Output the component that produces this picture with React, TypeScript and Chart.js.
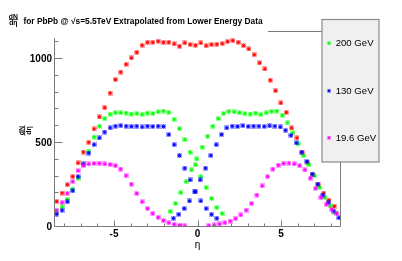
import React, { useEffect, useRef } from "react";
import { Chart, registerables } from "chart.js";

Chart.register(...registerables);

// ---- data ----
const etaRed = [-8.44,-8.12,-7.80,-7.48,-7.16,-6.84,-6.52,-6.20,-5.88,-5.56,-5.24,-4.92,-4.60,-4.28,-3.96,-3.64,-3.32,-3.00,-2.68,-2.36,-2.04,-1.72,-1.40,-1.08,-0.76,-0.44,-0.12,0.20,0.52,0.84,1.16,1.48,1.80,2.12,2.44,2.76,3.08,3.40,3.72,4.04,4.36,4.68,5.00,5.32,5.64,5.96,6.28,6.60,6.92,7.24,7.56,7.88,8.20];
const valRed = [152,202,252,300,381,446,504,583,655,710,797,877,922,968,1006,1039,1081,1099,1099,1105,1099,1099,1089,1075,1095,1085,1081,1095,1078,1085,1087,1091,1103,1109,1099,1079,1059,1025,976,940,873,811,738,682,589,530,444,381,311,252,202,160,123];

const etaGreenL = [-8.44,-8.12,-7.80,-7.48,-7.16,-6.84,-6.52,-6.20,-5.88,-5.56,-5.24,-4.92,-4.60,-4.28,-3.96,-3.64,-3.32,-3.00,-2.68,-2.36,-2.04,-1.72,-1.40,-1.08,-0.76,-0.44,-0.12,0.20,0.52,0.84,1.16,1.48];
const valGreenL = [88,120,165,225,290,370,450,535,600,645,672,680,680,678,672,675,670,678,675,685,690,682,640,585,520,445,370,300,235,170,115,80];
const etaGreenR = [-1.64,-1.32,-1.00,-0.68,-0.36,-0.04,0.28,0.60,0.92,1.24,1.56,1.88,2.20,2.52,2.84,3.16,3.48,3.80,4.12,4.44,4.76,5.08,5.40,5.72,6.04,6.36,6.68,7.00,7.32,7.64,7.96,8.28,8.60];
const valGreenR = [93,140,205,270,340,405,475,540,600,645,675,688,685,680,675,672,678,670,680,688,690,665,620,560,495,425,370,305,235,175,125,85,55];

const etaBlueL = [-8.44,-8.12,-7.80,-7.48,-7.16,-6.84,-6.52,-6.20,-5.88,-5.56,-5.24,-4.92,-4.60,-4.28,-3.96,-3.64,-3.32,-3.00,-2.68,-2.36,-2.04,-1.72,-1.40,-1.08,-0.76,-0.44,-0.12,0.20,0.52,0.84,1.16];
const valBlueL = [77,100,150,215,300,375,440,490,530,565,590,600,603,600,598,600,595,600,598,600,598,550,490,425,350,280,210,155,110,75,52];
const etaBlueR = [-1.44,-1.12,-0.80,-0.48,-0.16,0.16,0.48,0.80,1.12,1.44,1.76,2.08,2.40,2.72,3.04,3.36,3.68,4.00,4.32,4.64,4.96,5.28,5.60,5.92,6.24,6.56,6.88,7.20,7.52,7.84,8.16,8.48];
const valBlueR = [52,75,110,155,210,280,350,425,490,550,590,600,598,603,598,600,600,598,602,600,595,575,545,500,445,390,315,255,190,145,95,55];

const etaMagL = [-8.44,-8.12,-7.80,-7.48,-7.16,-6.84,-6.52,-6.20,-5.88,-5.56,-5.24,-4.92,-4.60,-4.28,-3.96,-3.64,-3.32,-3.00,-2.68,-2.36,-2.04,-1.72,-1.40,-1.08,-0.76];
const valMagL = [100,145,200,270,335,365,375,378,378,375,372,365,345,305,255,200,150,110,80,57,38,25,16,10,6];
const etaMagR = [0.68,1.00,1.32,1.64,1.96,2.28,2.60,2.92,3.24,3.56,3.88,4.20,4.52,4.84,5.16,5.48,5.80,6.12,6.44,6.76,7.08,7.40,7.72,8.04,8.36];
const valMagR = [8,12,18,25,35,50,72,100,140,190,245,300,345,368,378,380,375,365,340,290,230,175,135,105,80];

const xTickLabels = [-5, 0, 5];
const yTickLabels = [0, 500, 1000];
const legendLabels = ["200 GeV", "130 GeV", "19.6 GeV"];
const titleText = "for PbPb @ \u221As=5.5TeV Extrapolated from Lower Energy Data";

const RED = "#ff0000";
const GREEN = "#00ff00";
const BLUE = "#0000ff";
const MAGENTA = "#ff00ff";

function pts(xs: number[], ys: number[]) {
  return xs.map((x, i) => ({ x, y: ys[i] }));
}

function makeMarker(color: string): HTMLCanvasElement {
  const c = document.createElement("canvas");
  c.width = 5;
  c.height = 5;
  const g = c.getContext("2d")!;
  g.globalAlpha = 0.28;
  g.fillStyle = color;
  g.fillRect(0, 0, 5, 5);
  g.globalAlpha = 0.9;
  g.strokeStyle = color;
  g.lineWidth = 0.9;
  g.beginPath();
  g.moveTo(0.8, 0.8); g.lineTo(4.2, 4.2);
  g.moveTo(4.2, 0.8); g.lineTo(0.8, 4.2);
  g.moveTo(2.5, 0.5); g.lineTo(2.5, 4.5);
  g.moveTo(0.5, 2.5); g.lineTo(4.5, 2.5);
  g.stroke();
  g.globalAlpha = 1;
  g.fillStyle = color;
  g.fillRect(1.5, 1.5, 2, 2);
  return c;
}

const FONT = "'Liberation Sans', Arial, Helvetica, sans-serif";

export default function App() {
  const ref = useRef<HTMLCanvasElement | null>(null);

  useEffect(() => {
    const canvas = ref.current;
    if (!canvas) return;
    const mRed = makeMarker(RED);
    const mGreen = makeMarker(GREEN);
    const mBlue = makeMarker(BLUE);
    const mMag = makeMarker(MAGENTA);

    const decor = {
      id: "rootDecor",
      afterDraw(chart: any) {
        const ctx: CanvasRenderingContext2D = chart.ctx;
        const a = chart.chartArea;
        const xs = chart.scales.x;
        const ys = chart.scales.y;
        ctx.save();
        const L = Math.round(a.left) + 0.5;
        const B = Math.round(a.bottom) - 0.5;
        const R = Math.round(a.right) - 0.5;
        const T = Math.round(a.top) - 0.5;
        ctx.strokeStyle = "#7a7a7a";
        ctx.lineWidth = 1;
        ctx.beginPath();
        // left axis (top part hidden by title box)
        ctx.moveTo(L, 38); ctx.lineTo(L, B);
        // bottom axis
        ctx.moveTo(L, B); ctx.lineTo(R, B);
        // right frame visible below legend
        ctx.moveTo(R, 162); ctx.lineTo(R, B);
        // top frame between title box and legend
        ctx.moveTo(268, T); ctx.lineTo(322, T);
        ctx.stroke();

        // y ticks
        ctx.beginPath();
        for (let v = 0; v <= 1100; v += 100) {
          const py = Math.round(ys.getPixelForValue(v)) - 0.5;
          const len = v % 500 === 0 ? 8 : 4;
          ctx.moveTo(L, py); ctx.lineTo(L + len, py);
        }
        // x ticks
        for (let v = -8; v <= 8; v += 1) {
          const px = Math.round(xs.getPixelForValue(v)) + 0.5;
          const len = v % 5 === 0 ? 6 : 3;
          ctx.moveTo(px, B); ctx.lineTo(px, B - len);
        }
        ctx.stroke();

        ctx.fillStyle = "#000";
        // x axis title
        ctx.font = `10px ${FONT}`;
        ctx.textAlign = "center";
        ctx.textBaseline = "alphabetic";
        ctx.fillText("\u03B7", xs.getPixelForValue(0), 248);

        // y axis title: fraction dN/dη rotated
        ctx.save();
        ctx.translate(24.7, (a.top + a.bottom) / 2 + 1);
        ctx.rotate(-Math.PI / 2);
        ctx.font = `bold 7px ${FONT}`;
        ctx.textAlign = "center";
        ctx.fillText("dN", 0, -1);
        ctx.fillText("d\u03B7", 0, 5.8);
        ctx.fillRect(-5, -0.4, 10, 0.8);
        ctx.restore();

        // plot title
        ctx.font = `bold 6.8px ${FONT}`;
        ctx.textAlign = "center";
        ctx.fillText("dN", 13.3, 18.5);
        ctx.fillText("d\u03B7", 13.3, 25.3);
        ctx.fillRect(9, 19.3, 9, 0.8);
        ctx.textAlign = "left";
        ctx.font = `bold 10px ${FONT}`;
        const w10 = ctx.measureText(titleText).width;
        const fs = (10 * 239) / w10;
        ctx.font = `bold ${fs.toFixed(2)}px ${FONT}`;
        ctx.fillText(titleText, 23.5, 23.8);

        // legend box
        ctx.fillStyle = "#f0f0f0";
        ctx.fillRect(322, 19, 57, 143);
        ctx.strokeStyle = "#8a8a8a";
        ctx.lineWidth = 1.2;
        ctx.strokeRect(322, 19.5, 57, 142.5);
        const marks = [mGreen, mBlue, mMag];
        const ly = [43.3, 90.7, 137.7];
        ctx.fillStyle = "#000";
        ctx.font = `9.6px ${FONT}`;
        ctx.textBaseline = "middle";
        ctx.textAlign = "left";
        for (let i = 0; i < legendLabels.length; i++) {
          ctx.drawImage(marks[i], 327, ly[i] - 2, 4, 4);
          ctx.fillText(legendLabels[i], 335.7, ly[i] + 0.5);
        }
        ctx.restore();
      },
    };

    const tickFont = { family: FONT, size: 10, weight: "bold" as const };

    const chart = new Chart(canvas, {
      type: "scatter",
      data: {
        datasets: [
          { label: "19.6 GeV", data: [...pts(etaMagL, valMagL), ...pts(etaMagR, valMagR)], pointStyle: mMag as any, pointRadius: 3, showLine: false },
          { label: "130 GeV", data: [...pts(etaBlueL, valBlueL), ...pts(etaBlueR, valBlueR)], pointStyle: mBlue as any, pointRadius: 3, showLine: false },
          { label: "200 GeV", data: [...pts(etaGreenL, valGreenL), ...pts(etaGreenR, valGreenR)], pointStyle: mGreen as any, pointRadius: 3, showLine: false },
          { label: "5.5 TeV", data: pts(etaRed, valRed), pointStyle: mRed as any, pointRadius: 3, showLine: false },
        ],
      },
      options: {
        animation: false,
        responsive: false,
        devicePixelRatio: 1,
        events: [],
        layout: { padding: { left: 0, right: 61, top: 32, bottom: 0 } },
        plugins: { legend: { display: false }, tooltip: { enabled: false }, title: { display: false } },
        scales: {
          x: {
            type: "linear",
            min: -8.6,
            max: 8.6,
            grid: { display: false, drawTicks: false },
            border: { display: false },
            afterFit: (s: any) => { s.height = 34; },
            ticks: {
              stepSize: 1,
              autoSkip: false,
              maxRotation: 0,
              padding: 1,
              color: "#000",
              font: tickFont,
              callback: (v: any) => (xTickLabels.some((t) => Math.abs(t - Number(v)) < 1e-6) ? String(Math.round(Number(v))) : ""),
            },
          },
          y: {
            type: "linear",
            min: 0,
            max: 1160,
            grid: { display: false, drawTicks: false },
            border: { display: false },
            afterFit: (s: any) => { s.width = 54; },
            ticks: {
              stepSize: 100,
              autoSkip: false,
              padding: 2,
              color: "#000",
              font: tickFont,
              callback: (v: any) => (yTickLabels.some((t) => Math.abs(t - Number(v)) < 1e-6) ? String(Math.round(Number(v))) : ""),
            },
          },
        },
      },
      plugins: [decor],
    });
    return () => chart.destroy();
  }, []);

  return (
    <div style={{ position: "absolute", left: 0, top: 0, width: 402, height: 261, background: "#fff" }}>
      <canvas ref={ref} width={402} height={261} style={{ display: "block", width: 402, height: 261 }} />
    </div>
  );
}
